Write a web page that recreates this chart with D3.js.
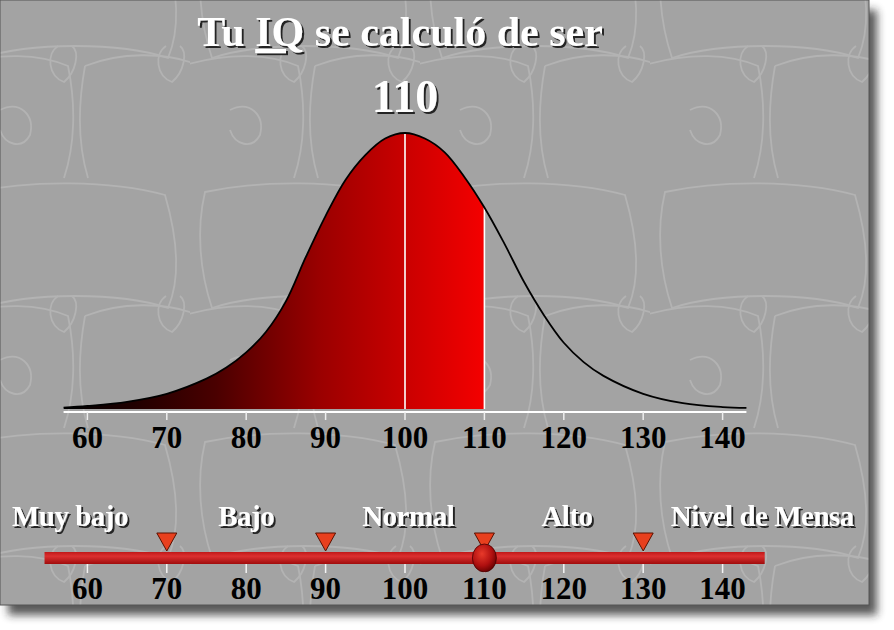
<!DOCTYPE html>
<html>
<head>
<meta charset="utf-8">
<script src="https://cdn.jsdelivr.net/npm/d3@7"></script>
<style>
  body { margin: 0; background: #fff; }
  text { font-family: "Liberation Serif", "DejaVu Serif", serif; font-weight: bold; }
</style>
</head>
<body>
<div id="vis"></div>
<script>
// size of the picture
const W = 894, H = 630
const panelW = 869, panelH = 605

// curve (IQ score -> height, peak = 100)
const curveIQ     = [57, 60, 65, 70, 75, 77.5, 80, 82.5, 85, 87.5, 90, 92.5, 95, 97.5, 100, 102.5, 105, 107.5, 110, 112.5, 115, 117.5, 120, 122.5, 125, 130, 135, 140, 143]
const curveHeight = [0.5, 1.1, 2.6, 5.5, 11, 15, 20.5, 28, 39, 55, 70, 83, 92, 98, 100, 98, 93, 84, 73, 60, 46, 34, 24, 17, 12, 5.5, 2.1, 0.7, 0.4]

const score = 110
const tickValues = [60, 70, 80, 90, 100, 110, 120, 130, 140]
const markerValues = [70, 90, 110, 130]
const bandLabels = ['Muy bajo', 'Bajo', 'Normal', 'Alto', 'Nivel de Mensa']
const bandCenters = [57.8, 80, 100.4, 120.4, 145]   // where each label sits on the IQ scale
const axisExtent = [57, 143]
const barExtent = [54.6, 145.3]

// scales
const x = d3.scaleLinear().domain([100, 110]).range([405, 484.4])
const y = d3.scaleLinear().domain([0, 100]).range([409, 133])

const svg = d3.select('#vis').append('svg')
    .attr('width', W).attr('height', H)

const defs = svg.append('defs')

// drop shadow for the white lettering
const sh = defs.append('filter').attr('id', 'txtShadow')
    .attr('x', '-10%').attr('y', '-20%').attr('width', '130%').attr('height', '150%')
sh.append('feDropShadow').attr('dx', 2).attr('dy', 2).attr('stdDeviation', 0.6)
    .attr('flood-color', '#1a1a1a').attr('flood-opacity', 0.95)

const panelShadow = defs.append('filter').attr('id', 'panelShadow')
    .attr('x', '-5%').attr('y', '-5%').attr('width', '115%').attr('height', '115%')
panelShadow.append('feGaussianBlur').attr('stdDeviation', 4)

// red fill gradient (black on the left, bright red at the score)
const grad = defs.append('linearGradient').attr('id', 'redGrad')
    .attr('gradientUnits', 'userSpaceOnUse')
    .attr('x1', x(58)).attr('x2', x(score)).attr('y1', 0).attr('y2', 0)
grad.selectAll('stop')
    .data([[0, '#000'], [0.35, '#4a0000'], [0.6, '#9a0000'], [0.8, '#c80000'], [1, '#f40000']])
    .join('stop')
    .attr('offset', d => d[0]).attr('stop-color', d => d[1])

const barGrad = defs.append('linearGradient').attr('id', 'barGrad')
    .attr('x1', 0).attr('x2', 0).attr('y1', 0).attr('y2', 1)
barGrad.append('stop').attr('offset', 0).attr('stop-color', '#c01818')
barGrad.append('stop').attr('offset', 0.35).attr('stop-color', '#dc3030')
barGrad.append('stop').attr('offset', 1).attr('stop-color', '#a00c0c')

const ballGrad = defs.append('radialGradient').attr('id', 'ballGrad')
    .attr('cx', 0.4).attr('cy', 0.35).attr('r', 0.7)
ballGrad.append('stop').attr('offset', 0).attr('stop-color', '#e83a2a')
ballGrad.append('stop').attr('offset', 0.6).attr('stop-color', '#b01010')
ballGrad.append('stop').attr('offset', 1).attr('stop-color', '#600000')

// background texture
const pat = defs.append('pattern').attr('id', 'bgPat')
    .attr('patternUnits', 'userSpaceOnUse')
    .attr('width', 230).attr('height', 250).attr('x', -40).attr('y', -70)
pat.append('rect').attr('width', 230).attr('height', 250).attr('fill', '#a3a3a3')
const cellPaths = [
  'M15,12 C70,0 150,0 205,15 C218,60 220,100 208,128 C160,112 70,112 22,128 C10,92 6,50 15,12 Z',
  'M-5,135 C40,122 80,124 108,136 C116,175 115,215 104,248',
  'M125,136 C160,122 205,122 235,134 M125,136 C118,175 118,215 128,248',
  'M98,116 C86,124 88,146 104,152 C116,142 120,122 112,116',
  'M206,116 C194,124 196,146 212,152 C224,142 228,122 220,116',
  'M40,180 C60,170 75,185 70,205 C62,220 45,215 40,200'
]
pat.selectAll('path').data(cellPaths).join('path')
    .attr('d', d => d).attr('fill', 'none')
    .attr('stroke', '#b3b3b3').attr('stroke-width', 1.8)

// panel + shadow
svg.append('rect').attr('x', 8).attr('y', 10).attr('width', panelW).attr('height', panelH)
    .attr('fill', '#222').attr('opacity', 0.75).attr('filter', 'url(#panelShadow)')
svg.append('rect').attr('x', 0).attr('y', 0).attr('width', panelW).attr('height', panelH)
    .attr('fill', 'url(#bgPat)').attr('stroke', '#555').attr('stroke-width', 1)

// titles
svg.append('text').attr('x', 400).attr('y', 46)
    .attr('text-anchor', 'middle').attr('font-size', 42).attr('fill', '#fff')
    .attr('filter', 'url(#txtShadow)')
    .html('Tu <tspan text-decoration="underline">IQ</tspan> se calculó de ser')

svg.append('text').attr('x', x(100)).attr('y', 112)
    .attr('text-anchor', 'middle').attr('font-size', 46).attr('fill', '#fff')
    .attr('filter', 'url(#txtShadow)')
    .text(score)

// the bell curve
const pts = curveIQ.map((v, i) => ({ iq: v, h: curveHeight[i] }))
const curve = d3.curveCatmullRom

defs.append('clipPath').attr('id', 'scoreClip')
    .append('rect').attr('x', x(axisExtent[0])).attr('y', 0)
    .attr('width', x(score) - x(axisExtent[0])).attr('height', H)

const area = d3.area().x(d => x(d.iq)).y0(y(0)).y1(d => y(d.h)).curve(curve)
svg.append('path').datum(pts)
    .attr('d', area)
    .attr('fill', 'url(#redGrad)')
    .attr('clip-path', 'url(#scoreClip)')

// white guide lines at 100 and at the score
const hAt = v => curveHeight[curveIQ.indexOf(v)]
svg.selectAll('.guide').data([100, score]).join('line')
    .attr('class', 'guide')
    .attr('x1', d => x(d)).attr('x2', d => x(d))
    .attr('y1', y(0)).attr('y2', d => y(hAt(d)))
    .attr('stroke', '#fff').attr('stroke-width', 1.6)

const line = d3.line().x(d => x(d.iq)).y(d => y(d.h)).curve(curve)
svg.append('path').datum(pts)
    .attr('d', line).attr('fill', 'none')
    .attr('stroke', '#000').attr('stroke-width', 1.8)

// top axis (white line, white ticks, black numbers)
svg.append('line')
    .attr('x1', x(axisExtent[0])).attr('x2', x(axisExtent[1]))
    .attr('y1', y(0) + 3).attr('y2', y(0) + 3)
    .attr('stroke', '#fff').attr('stroke-width', 2)
svg.selectAll('.tickTop').data(tickValues).join('line')
    .attr('class', 'tickTop')
    .attr('x1', d => x(d)).attr('x2', d => x(d))
    .attr('y1', y(0) + 3).attr('y2', y(0) + 11)
    .attr('stroke', '#eee').attr('stroke-width', 1.5)
svg.selectAll('.labTop').data(tickValues).join('text')
    .attr('class', 'labTop')
    .attr('x', d => x(d)).attr('y', 448)
    .attr('text-anchor', 'middle').attr('font-size', 31).attr('fill', '#000')
    .text(d => d)

// band labels
svg.selectAll('.band').data(bandLabels).join('text')
    .attr('class', 'band')
    .attr('x', (d, i) => x(bandCenters[i])).attr('y', 526)
    .attr('text-anchor', 'middle').attr('font-size', 29).attr('fill', '#fff')
    .attr('letter-spacing', -0.5)
    .attr('filter', 'url(#txtShadow)')
    .text(d => d)

// bottom scale
const barY = 552, barH = 12
svg.selectAll('.tickBot').data(tickValues).join('line')
    .attr('class', 'tickBot')
    .attr('x1', d => x(d)).attr('x2', d => x(d))
    .attr('y1', barY + barH).attr('y2', barY + barH + 9)
    .attr('stroke', '#f4f4f4').attr('stroke-width', 1.5)

svg.selectAll('.marker').data(markerValues).join('path')
    .attr('class', 'marker')
    .attr('d', d => `M${x(d) - 10},${barY - 19} L${x(d) + 10},${barY - 19} L${x(d)},${barY - 1} Z`)
    .attr('fill', '#e8401e').attr('stroke', '#5a1000').attr('stroke-width', 1)

svg.append('rect')
    .attr('x', x(barExtent[0])).attr('y', barY)
    .attr('width', x(barExtent[1]) - x(barExtent[0])).attr('height', barH)
    .attr('fill', 'url(#barGrad)')

svg.append('ellipse')
    .attr('cx', x(score)).attr('cy', barY + barH / 2)
    .attr('rx', 12).attr('ry', 14)
    .attr('fill', 'url(#ballGrad)').attr('stroke', '#4a0000').attr('stroke-width', 0.8)

svg.selectAll('.labBot').data(tickValues).join('text')
    .attr('class', 'labBot')
    .attr('x', d => x(d)).attr('y', 599)
    .attr('text-anchor', 'middle').attr('font-size', 31).attr('fill', '#000')
    .text(d => d)
</script>
</body>
</html>
